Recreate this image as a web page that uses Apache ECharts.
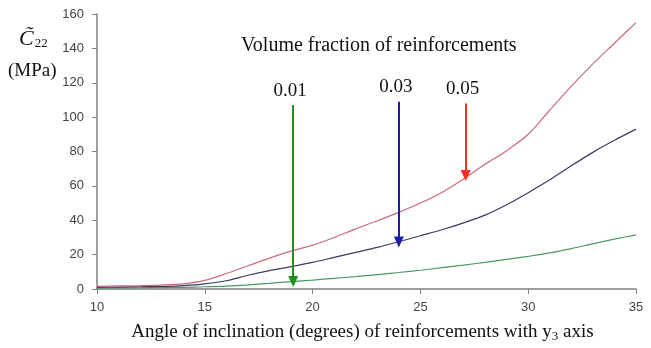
<!DOCTYPE html>
<html>
<head>
<meta charset="utf-8">
<script src="https://cdn.jsdelivr.net/npm/echarts@6/dist/echarts.min.js"></script>
<style>
  html, body { margin: 0; padding: 0; background: #fff; }
  #main { width: 651px; height: 348px; }
</style>
</head>
<body>
<div id="main"></div>
<script>
// angle of inclination (degrees)
var angles = [10,11,12,13,14,15,16,17,18,19,20,21,22,23,24,25,26,27,28,29,30,31,32,33,34,35];
// C22 (MPa) for each volume fraction
var vf001 = [0.5,0.6,0.7,0.8,1.0,1.3,1.7,2.4,3.3,4.3,5.2,6.2,7.2,8.4,9.6,10.9,12.4,13.9,15.5,17.2,19,21,23.5,26.3,29,31.5];
var vf003 = [1.0,1.1,1.3,1.5,2,3,4.8,8,10.7,13,15.5,18.4,21.3,24.2,27.5,31,34.5,38.5,43,49,56,63.5,71.7,79.5,86.5,93];
var vf005 = [1.5,1.8,2,2.3,3,5,9,13.5,18,22,25.5,30,35,39.7,44.6,50,56.2,64,72.6,80.5,90,104,118,131,143,155];

var arrowLabels = ['0.01','0.03','0.05'];
var arrowX = [19.1, 24.0, 27.1];
var arrowTop = [107, 109, 108];
var arrowTip = [4.3, 27.3, 66];

var lineColors = ['#4a9a68', '#3b3b66', '#cc6a7c'];
var arrowColors = ['#1f8f1f', '#1c1ca6', '#ff2a2a'];

function pairs(vals){
  return angles.map(function(a, i){ return [a, vals[i]]; });
}

function makeSeries(name, vals, k){
  return {
    name: name,
    type: 'line',
    data: pairs(vals),
    symbol: 'none',
    smooth: 0.3,
    lineStyle: { color: lineColors[k], width: 1.2 },
    z: 2,
    markLine: {
      silent: true,
      symbol: ['none', 'triangle'],
      symbolSize: [10, 11],
      lineStyle: { color: arrowColors[k], width: 2, type: 'solid' },
      label: {
        show: true,
        position: 'start',
        formatter: arrowLabels[k],
        color: '#111',
        fontFamily: 'Liberation Serif',
        fontSize: 19,
        distance: 5,
        offset: [-3, 0]
      },
      data: [[
        { coord: [arrowX[k], arrowTop[k]] },
        { coord: [arrowX[k], arrowTip[k]] }
      ]]
    }
  };
}

var myChart = echarts.init(document.getElementById('main'));
var option = {
  animation: false,
  backgroundColor: '#fff',
  grid: { left: 97, right: 15, top: 14, bottom: 58, containLabel: false },
  xAxis: {
    type: 'value',
    min: 10, max: 35, interval: 5,
    name: '{n|Angle of inclination (degrees) of reinforcements with y}{s|3}{n| axis}',
    nameLocation: 'middle',
    nameGap: 33,
    nameTextStyle: {
      padding: [0, 8, 0, 0],
      rich: {
        n: { fontFamily: 'Liberation Serif', fontSize: 19, color: '#111' },
        s: { fontFamily: 'Liberation Serif', fontSize: 13, color: '#111', padding: [8, 0, 0, 0] }
      }
    },
    axisLine: { lineStyle: { color: '#808080', width: 1.5 } },
    axisTick: { show: true, length: 5, lineStyle: { color: '#808080' } },
    axisLabel: { color: '#444', fontFamily: 'Liberation Sans', fontSize: 13, margin: 12 },
    splitLine: { show: false }
  },
  yAxis: {
    type: 'value',
    min: 0, max: 160, interval: 20,
    axisLine: { show: true, lineStyle: { color: '#808080', width: 1.5 } },
    axisTick: { show: true, length: 5, lineStyle: { color: '#808080' } },
    axisLabel: { color: '#444', fontFamily: 'Liberation Sans', fontSize: 13, margin: 13 },
    splitLine: { show: false }
  },
  graphic: [
    {
      type: 'text', left: 241, top: 36,
      style: { text: 'Volume fraction of reinforcements', font: '20px "Liberation Serif"', fill: '#111' }
    },
    {
      type: 'text', left: 19, top: 28,
      style: {
        text: '{c|C\u0303}{s|22}',
        rich: {
          c: { font: 'italic 22px "Liberation Serif"', fill: '#111' },
          s: { font: '13px "Liberation Serif"', fill: '#111', padding: [9, 0, 0, 1] }
        }
      }
    },
    {
      type: 'text', left: 8, top: 62,
      style: { text: '(MPa)', font: '19px "Liberation Serif"', fill: '#111' }
    }
  ],
  series: [
    makeSeries('0.01', vf001, 0),
    makeSeries('0.03', vf003, 1),
    makeSeries('0.05', vf005, 2)
  ]
};
myChart.setOption(option);
</script>
</body>
</html>
